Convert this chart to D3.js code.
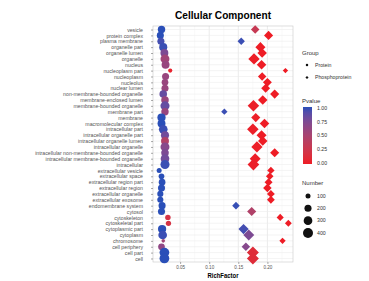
<!DOCTYPE html>
<html>
<head>
<meta charset="utf-8">
<script src="https://cdn.jsdelivr.net/npm/d3@7"></script>
<style>
  body { margin: 0; background: #fff; }
  svg { font-family: "Liberation Sans", Arial, sans-serif; }
</style>
</head>
<body>
<svg width="369" height="281"></svg>
<script>
// categories, top to bottom
var terms = ["vesicle", "protein complex", "plasma membrane", "organelle part", "organelle lumen",
  "organelle", "nucleus", "nucleoplasm part", "nucleoplasm", "nucleolus", "nuclear lumen",
  "non-membrane-bounded organelle", "membrane-enclosed lumen", "membrane-bounded organelle",
  "membrane part", "membrane", "macromolecular complex", "intracellular part",
  "intracellular organelle part", "intracellular organelle lumen", "intracellular organelle",
  "intracellular non-membrane-bounded organelle", "intracellular membrane-bounded organelle",
  "intracellular", "extracellular vesicle", "extracellular space", "extracellular region part",
  "extracellular region", "extracellular organelle", "extracellular exosome",
  "endomembrane system", "cytosol", "cytoskeleton", "cytoskeletal part", "cytoplasmic part",
  "cytoplasm", "chromosome", "cell periphery", "cell part", "cell"];

// Protein series
var protRich = [0.018, 0.016, 0.017, 0.021, 0.023, 0.024, 0.025, 0.033, 0.025, 0.024, 0.024,
  0.021, 0.024, 0.024, 0.024, 0.018, 0.018, 0.021, 0.024, 0.024, 0.024, 0.024, 0.024, 0.024,
  0.014, 0.018, 0.019, 0.018, 0.016, 0.016, 0.019, 0.018, 0.029, 0.030, 0.019, 0.020, 0.021,
  0.018, 0.023, 0.023];
var protP = [1.0, 1.0, 0.95, 0.97, 0.75, 0.55, 0.6, 0.05, 0.6, 0.6, 0.6, 0.85, 0.6, 0.85, 0.6,
  1.0, 1.0, 0.97, 0.8, 0.45, 0.7, 0.75, 0.8, 0.97, 1.0, 1.0, 1.0, 1.0, 1.0, 1.0, 1.0,
  1.0, 0.2, 0.2, 1.0, 0.97, 0.55, 0.65, 1.0, 1.0];
var protN = [220, 200, 200, 260, 250, 320, 250, 70, 200, 180, 200, 230, 230, 330, 220, 270, 250,
  300, 260, 250, 320, 230, 300, 330, 100, 130, 180, 200, 150, 150, 200, 200, 120, 110, 270, 300,
  50, 180, 380, 380];

// Phosphoprotein series
var phosRich = [0.179, 0.202, 0.155, 0.188, 0.191, 0.177, 0.190, 0.231, 0.191, 0.200, 0.197,
  0.2125, 0.192, 0.176, 0.126, 0.180, 0.195, 0.175, 0.190, 0.192, 0.182, 0.2125, 0.179, 0.176,
  0.206, 0.204, 0.202, 0.200, 0.206, 0.206, 0.146, 0.173, 0.222, 0.236, 0.159, 0.168, 0.226,
  0.163, 0.175, 0.175];
var phosP = [0.3, 0.0, 0.97, 0.0, 0.0, 0.01, 0.0, 0.0, 0.0, 0.0, 0.0, 0.0, 0.0, 0.02,
  0.97, 0.01, 0.0, 0.02, 0.0, 0.0, 0.01, 0.0, 0.01, 0.02, 0.0, 0.0, 0.0, 0.0, 0.0, 0.0,
  0.98, 0.45, 0.0, 0.0, 0.95, 0.75, 0.0, 0.7, 0.12, 0.12];
var phosN = [200, 230, 150, 280, 250, 360, 250, 80, 200, 220, 220, 230, 250, 370, 110, 230, 250,
  370, 280, 250, 350, 230, 330, 380, 150, 160, 180, 200, 170, 170, 160, 230, 140, 130, 290, 330,
  110, 200, 400, 400];

var groups = ["Protein", "Phosphoprotein"];
var xTicks = [0.05, 0.10, 0.15, 0.20];
var pTicks = [1.00, 0.75, 0.50, 0.25, 0.00];
var nTicks = [100, 200, 300, 400];

// build point table
var points = [];
terms.forEach(function(t, i) {
  points.push({term: t, group: "Protein", rich: protRich[i], p: protP[i], n: protN[i]});
  points.push({term: t, group: "Phosphoprotein", rich: phosRich[i], p: phosP[i], n: phosN[i]});
});

var svg = d3.select("svg"),
  panel = {left: 153, right: 293, top: 26, bottom: 262};

var x = d3.scaleLinear().domain([0.0034, 0.244]).range([panel.left, panel.right]),
  y = d3.scalePoint().domain(terms).range([panel.top, panel.bottom]).padding(0.6),
  color = d3.scaleLinear().domain([0, 1]).range(["#ee1c25", "#2a4fb8"]).interpolate(d3.interpolateLab),
  size = d3.scaleSqrt().domain([0, 400]).range([0, 5]);

function diamond(r) {
  var h = r * 1.2;
  return "M0," + (-h) + "L" + h + ",0L0," + h + "L" + (-h) + ",0Z";
}

// panel background and grid
svg.append("rect")
  .attr("x", panel.left).attr("y", panel.top)
  .attr("width", panel.right - panel.left).attr("height", panel.bottom - panel.top)
  .attr("fill", "#fff");

var minor = [0.025, 0.075, 0.125, 0.175, 0.225];
svg.append("g").selectAll("line").data(minor).join("line")
  .attr("x1", d => x(d)).attr("x2", d => x(d))
  .attr("y1", panel.top).attr("y2", panel.bottom)
  .attr("stroke", "#f2f2f2").attr("stroke-width", 0.5);

svg.append("g").selectAll("line").data(xTicks).join("line")
  .attr("x1", d => x(d)).attr("x2", d => x(d))
  .attr("y1", panel.top).attr("y2", panel.bottom)
  .attr("stroke", "#e6e6e6").attr("stroke-width", 0.8);

svg.append("g").selectAll("line").data(terms).join("line")
  .attr("x1", panel.left).attr("x2", panel.right)
  .attr("y1", d => y(d)).attr("y2", d => y(d))
  .attr("stroke", "#ececec").attr("stroke-width", 0.6);

svg.append("rect")
  .attr("x", panel.left).attr("y", panel.top)
  .attr("width", panel.right - panel.left).attr("height", panel.bottom - panel.top)
  .attr("fill", "none").attr("stroke", "#c8c8c8").attr("stroke-width", 0.6);

// axes
var xAxis = svg.append("g")
  .attr("transform", "translate(0," + panel.bottom + ")")
  .call(d3.axisBottom(x).tickValues(xTicks).tickFormat(d3.format(".2f")).tickSize(2).tickPadding(2));
xAxis.select(".domain").remove();
xAxis.selectAll("line").attr("stroke", "#555").attr("stroke-width", 0.5);
xAxis.selectAll("text").attr("font-size", 4.6).attr("fill", "#555").attr("font-family", null);

var yAxis = svg.append("g")
  .attr("transform", "translate(" + panel.left + ",0)")
  .call(d3.axisLeft(y).tickSize(2).tickPadding(8));
yAxis.select(".domain").remove();
yAxis.selectAll("line").attr("stroke", "#555").attr("stroke-width", 0.5);
yAxis.selectAll("text").attr("font-size", 5.2).attr("fill", "#555").attr("font-family", null);

// points
svg.append("g").selectAll("path").data(points).join("path")
  .attr("transform", d => "translate(" + x(d.rich) + "," + y(d.term) + ")")
  .attr("d", d => d.group === "Protein" ? d3.symbol(d3.symbolCircle, Math.PI * size(d.n) * size(d.n))() : diamond(size(d.n)))
  .attr("fill", d => color(d.p));

// titles
svg.append("text")
  .attr("x", (panel.left + panel.right) / 2).attr("y", 19)
  .attr("text-anchor", "middle").attr("font-size", 11).attr("font-weight", "bold")
  .attr("textLength", 96).attr("lengthAdjust", "spacingAndGlyphs")
  .text("Cellular Component");

svg.append("text")
  .attr("x", (panel.left + panel.right) / 2).attr("y", 278)
  .attr("text-anchor", "middle").attr("font-size", 7).attr("font-weight", "bold")
  .attr("textLength", 31).attr("lengthAdjust", "spacingAndGlyphs")
  .text("RichFactor");

// legend: group
var lg = svg.append("g").attr("font-size", 5.2).attr("fill", "#333");
lg.append("text").attr("x", 302).attr("y", 55).attr("font-size", 6).text("Group");
groups.forEach(function(gname, i) {
  var yy = 65 + i * 12.5;
  lg.append("path")
    .attr("transform", "translate(307," + yy + ")")
    .attr("d", i === 0 ? d3.symbol(d3.symbolCircle, 5)() : diamond(1.3))
    .attr("fill", "#111");
  lg.append("text").attr("x", 315).attr("y", yy + 1.8).text(gname);
});

// legend: pvalue colour bar
lg.append("text").attr("x", 302).attr("y", 103).attr("font-size", 6).text("Pvalue");
var defs = svg.append("defs");
var grad = defs.append("linearGradient").attr("id", "pgrad")
  .attr("x1", 0).attr("y1", 0).attr("x2", 0).attr("y2", 1);
d3.range(0, 1.01, 0.1).forEach(function(t) {
  grad.append("stop").attr("offset", t).attr("stop-color", color(1 - t));
});
var pScale = d3.scaleLinear().domain([1, 0]).range([108, 163]);
lg.append("rect").attr("x", 303).attr("y", 107).attr("width", 9).attr("height", 57)
  .attr("fill", "url(#pgrad)");
pTicks.forEach(function(v) {
  lg.append("text").attr("x", 317).attr("y", pScale(v) + 1.8).text(d3.format(".2f")(v));
});

// legend: number
lg.append("text").attr("x", 302).attr("y", 185).attr("font-size", 6).text("Number");
var nY = d3.scaleLinear().domain([100, 400]).range([196, 233]);
nTicks.forEach(function(v) {
  lg.append("circle").attr("cx", 308).attr("cy", nY(v)).attr("r", size(v)).attr("fill", "#111");
  lg.append("text").attr("x", 317).attr("y", nY(v) + 1.8).text(v);
});
</script>
</body>
</html>
